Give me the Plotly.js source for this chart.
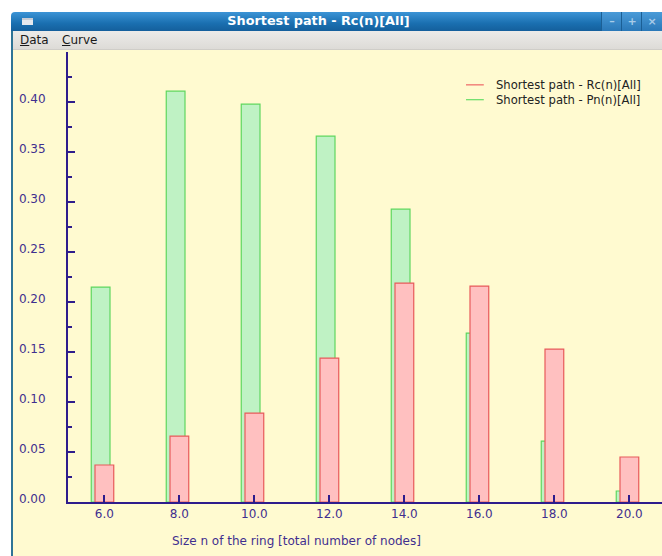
<!DOCTYPE html>
<html>
<head>
<meta charset="utf-8">
<script src="https://cdn.plot.ly/plotly-3.0.1.min.js"></script>
<style>
  html, body { margin: 0; padding: 0; background: #ffffff; }
  body { width: 662px; height: 556px; overflow: hidden; position: relative; font-family: "DejaVu Sans", sans-serif; }
  #titlebar {
    position: absolute; left: 11px; top: 12px; width: 680px; height: 19px;
    background: linear-gradient(#3c94d6, #1a6fb0 60%, #145f9c);
    border-top-left-radius: 4px;
  }
  #titletext {
    position: absolute; left: 0; top: 12px; width: 637px; text-align: center;
    color: #ffffff; font-weight: bold; font-size: 12.8px; line-height: 17px;
  }
  #winicon {
    position: absolute; left: 22px; top: 18px; width: 11px; height: 7px;
    background: #e6e9ee; border-top: 2px solid #c8ccd4; box-sizing: border-box;
  }
  .wbtn {
    position: absolute; top: 12px; width: 20px; height: 19px;
    background: linear-gradient(#4a9bd8, #2a78b8);
    border-left: 1px solid #1b5f95;
    color: #a8cbe8; font-weight: bold; font-size: 11px; line-height: 19px; text-align: center;
  }
  #menubar {
    position: absolute; left: 11px; top: 31px; width: 680px; height: 19px;
    background: linear-gradient(#ecebe9, #dddbd7);
    border-bottom: 1px solid #cfcdc8; box-sizing: border-box;
  }
  .menu { position: absolute; top: 33px; font-size: 12px; line-height: 15px; color: #1a1a1a; }
  .menu u { text-decoration: underline; }
  #leftborder {
    position: absolute; left: 11px; top: 31px; width: 2px; height: 540px; background: #2f7496;
  }
  #chart { position: absolute; left: 13px; top: 50px; width: 649px; height: 506px; }
</style>
</head>
<body>
<div id="titlebar"></div>
<div id="winicon"></div>
<div id="titletext">Shortest path - Rc(n)[All]</div>
<div class="wbtn" style="left:601px;">&#8211;</div>
<div class="wbtn" style="left:621px;">+</div>
<div class="wbtn" style="left:641px;">&#215;</div>
<div id="menubar"></div>
<div class="menu" style="left:20px;"><u>D</u>ata</div>
<div class="menu" style="left:62px;"><u>C</u>urve</div>
<div id="leftborder"></div>
<div id="chart"></div>
<script>
// Ring sizes n (total number of nodes)
const ringSizes = [6, 8, 10, 12, 14, 16, 18, 20];
// Shortest path - Rc(n)[All]
const rcValues = [0.037, 0.066, 0.089, 0.144, 0.219, 0.216, 0.153, 0.045];
// Shortest path - Pn(n)[All]
const pnValues = [0.215, 0.411, 0.398, 0.366, 0.293, 0.169, 0.061, 0.011];

const rcName = 'Shortest path - Rc(n)[All]';
const pnName = 'Shortest path - Pn(n)[All]';
const xTitle = 'Size n of the ring [total number of nodes]';

const xTickVals = [6, 8, 10, 12, 14, 16, 18, 20];
const xTickText = ['6.0', '8.0', '10.0', '12.0', '14.0', '16.0', '18.0', '20.0'];
const yTickVals = [0, 0.05, 0.10, 0.15, 0.20, 0.25, 0.30, 0.35, 0.40, 0.45];
const yTickText = ['0.00', '0.05', '0.10', '0.15', '0.20', '0.25', '0.30', '0.35', '0.40', ''];

const axisColor = '#2e1c8c';
const labelColor = '#3f2f8f';
const bg = '#fffad0';
const font = 'DejaVu Sans';
const rcLine = '#e85a5a', rcFill = '#ffc0c0';
const pnLine = '#5fd65f', pnFill = '#bff2c4';

const traces = [
  {
    type: 'bar', x: ringSizes, y: pnValues, width: 0.5, offset: -0.35, name: pnName,
    marker: { color: pnFill, line: { color: pnLine, width: 1.2 } },
    showlegend: false, hoverinfo: 'skip'
  },
  {
    type: 'bar', x: ringSizes, y: rcValues, width: 0.5, offset: -0.25, name: rcName,
    marker: { color: rcFill, line: { color: rcLine, width: 1.2 } },
    showlegend: false, hoverinfo: 'skip'
  }
];

// Compact legend: short line sample followed by the series name
const legendRows = [
  { name: rcName, color: '#ee6666', y: 0.927 },
  { name: pnName, color: '#66dd66', y: 0.894 }
];
const legendShapes = legendRows.map(r => ({
  type: 'line', xref: 'paper', yref: 'paper',
  x0: 0.670, x1: 0.700, y0: r.y, y1: r.y,
  line: { color: r.color, width: 1.2 }
}));
const legendLabels = legendRows.map(r => ({
  xref: 'paper', yref: 'paper', x: 0.718, y: r.y,
  xanchor: 'left', yanchor: 'middle', showarrow: false,
  text: r.name, font: { family: font, size: 11.6, color: '#222222' }
}));

const layout = {
  width: 649, height: 506,
  margin: { l: 55, r: 0, t: 2, b: 54 },
  paper_bgcolor: bg, plot_bgcolor: bg,
  barmode: 'overlay',
  font: { family: font, size: 12, color: labelColor },
  showlegend: false,
  shapes: legendShapes,
  annotations: legendLabels.concat([{
    xref: 'paper', yref: 'paper', x: 0.384, y: -0.087,
    xanchor: 'center', yanchor: 'middle', showarrow: false,
    text: xTitle, font: { family: font, size: 12, color: labelColor }
  }]),
  xaxis: {
    range: [5.03, 20.87],
    tickmode: 'array', tickvals: xTickVals, ticktext: xTickText,
    ticks: 'inside', ticklen: 7, tickwidth: 2, tickcolor: axisColor,
    showline: true, linecolor: axisColor, linewidth: 2,
    showgrid: false, zeroline: false,
    tickfont: { family: font, size: 12, color: labelColor }
  },
  yaxis: {
    range: [0, 0.4502],
    tickmode: 'array', tickvals: yTickVals, ticktext: yTickText,
    ticks: 'inside', ticklen: 7, tickwidth: 2, tickcolor: axisColor,
    minor: { dtick: 0.025, tick0: 0, ticks: 'inside', ticklen: 4, tickwidth: 2, tickcolor: axisColor },
    showline: true, linecolor: axisColor, linewidth: 2,
    showgrid: false, zeroline: false,
    ticklabelstandoff: 18, ticklabelshift: -3,
    tickfont: { family: font, size: 12, color: labelColor }
  }
};

Plotly.newPlot('chart', traces, layout, { displayModeBar: false, staticPlot: true });
</script>
</body>
</html>
